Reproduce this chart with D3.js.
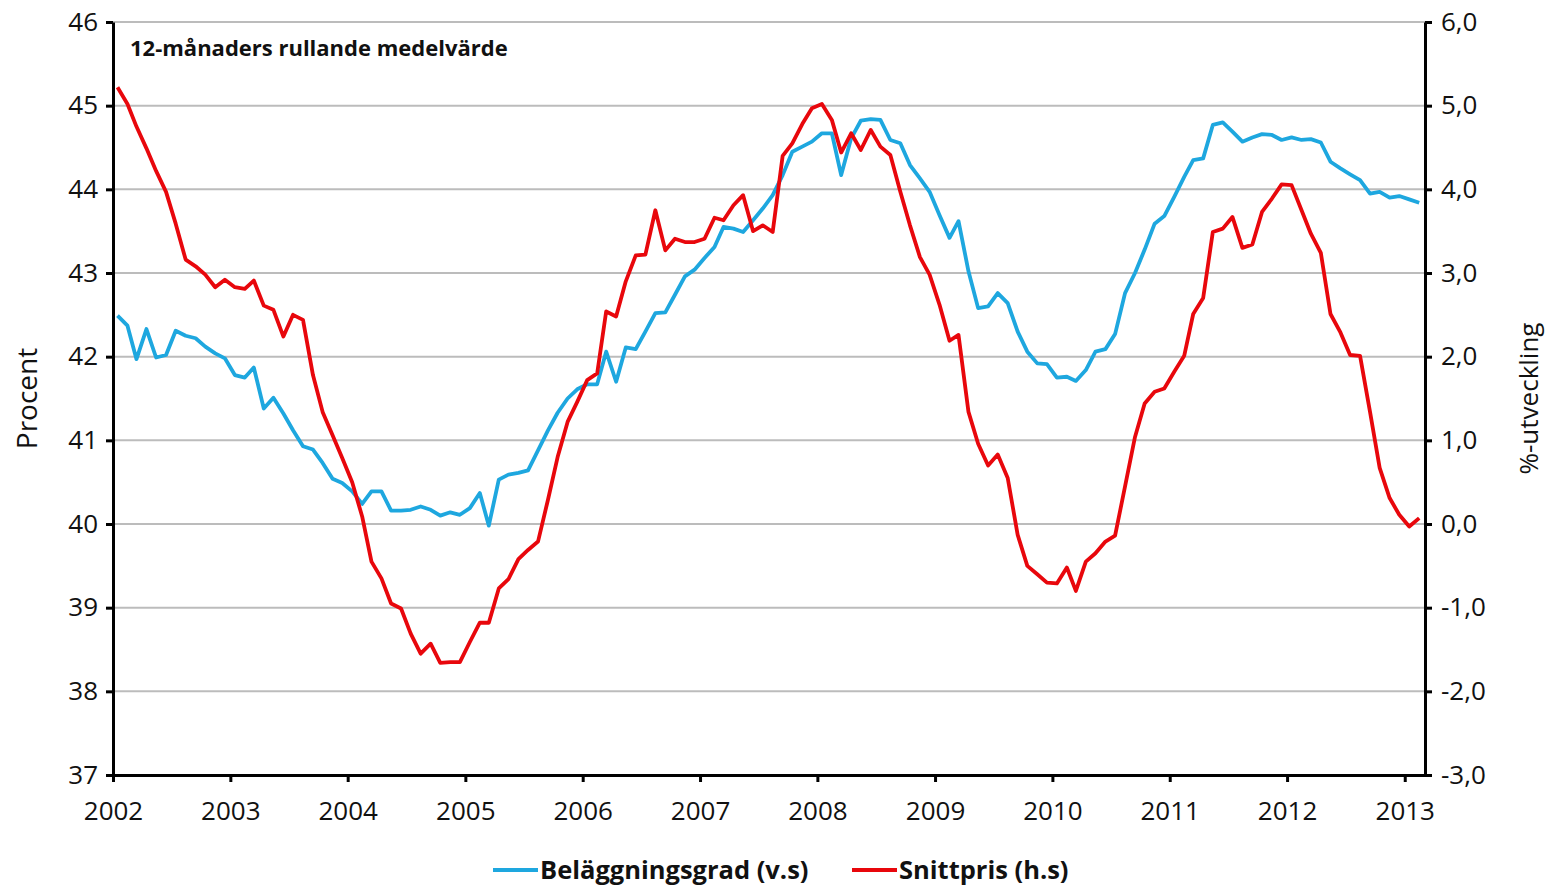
<!DOCTYPE html>
<html>
<head>
<meta charset="utf-8">
<script src="https://cdn.jsdelivr.net/npm/d3@7"></script>
<style>
  body { margin: 0; background: #fff; }
  svg { display: block; font-family: 'Open Sans', sans-serif; }
</style>
</head>
<body>
<div id="chart"></div>
<script>
// data: monthly values jan 2002 - feb 2013
const years = [2002, 2003, 2004, 2005, 2006, 2007, 2008, 2009, 2010, 2011, 2012, 2013];

// Beläggningsgrad, procent (left axis)
const occupancy = [
  42.49, 42.37, 41.97, 42.33, 41.99, 42.02, 42.31, 42.25, 42.22, 42.12, 42.04, 41.98,
  41.78, 41.75, 41.87, 41.38, 41.51, 41.32, 41.12, 40.93, 40.89, 40.73, 40.54, 40.49,
  40.39, 40.24, 40.39, 40.39, 40.16, 40.16, 40.17, 40.21, 40.17, 40.10, 40.14, 40.11,
  40.19, 40.37, 39.98, 40.53, 40.59, 40.61, 40.64, 40.88, 41.12, 41.33, 41.50, 41.61,
  41.67, 41.67, 42.06, 41.70, 42.11, 42.09, 42.30, 42.52, 42.53, 42.74, 42.96, 43.04,
  43.18, 43.31, 43.55, 43.53, 43.49, 43.63, 43.77, 43.93, 44.17, 44.45, 44.51, 44.57,
  44.67, 44.67, 44.17, 44.61, 44.82, 44.84, 44.83, 44.59, 44.55, 44.29, 44.13, 43.97,
  43.69, 43.42, 43.62, 43.02, 42.58, 42.60, 42.76, 42.64, 42.30, 42.06, 41.92, 41.91,
  41.75, 41.76, 41.71, 41.84, 42.06, 42.09, 42.27, 42.76, 43.00, 43.28, 43.59, 43.68,
  43.91, 44.15, 44.35, 44.37, 44.77, 44.80, 44.69, 44.57, 44.62, 44.66, 44.65, 44.59,
  44.62, 44.59, 44.60, 44.56, 44.33, 44.25, 44.18, 44.11, 43.95, 43.97, 43.90, 43.92,
  43.88, 43.84
];

// Snittpris, %-utveckling (right axis)
const price = [
  5.22, 5.02, 4.75, 4.49, 4.22, 3.97, 3.59, 3.16, 3.08, 2.98, 2.83, 2.92,
  2.83, 2.81, 2.91, 2.61, 2.56, 2.24, 2.50, 2.44, 1.78, 1.34, 1.06, 0.79,
  0.50, 0.09, -0.45, -0.65, -0.95, -1.01, -1.31, -1.55, -1.43, -1.66, -1.65, -1.65,
  -1.41, -1.18, -1.18, -0.77, -0.66, -0.42, -0.31, -0.21, 0.29, 0.80, 1.22, 1.46,
  1.72, 1.80, 2.54, 2.48, 2.90, 3.21, 3.22, 3.75, 3.27, 3.41, 3.37, 3.37,
  3.41, 3.66, 3.63, 3.81, 3.93, 3.50, 3.57, 3.49, 4.40, 4.55, 4.78, 4.97,
  5.02, 4.83, 4.44, 4.67, 4.47, 4.71, 4.51, 4.41, 3.97, 3.57, 3.19, 2.98,
  2.62, 2.19, 2.26, 1.34, 0.96, 0.70, 0.83, 0.55, -0.13, -0.50, -0.60, -0.70,
  -0.71, -0.52, -0.80, -0.45, -0.35, -0.21, -0.14, 0.45, 1.04, 1.44, 1.58, 1.62,
  1.82, 2.01, 2.51, 2.70, 3.49, 3.53, 3.67, 3.30, 3.34, 3.73, 3.89, 4.06,
  4.05, 3.75, 3.47, 3.24, 2.51, 2.29, 2.02, 2.01, 1.34, 0.67, 0.31, 0.11,
  -0.03, 0.07
];

const leftTicks = [37, 38, 39, 40, 41, 42, 43, 44, 45, 46];
const rightTicks = [-3, -2, -1, 0, 1, 2, 3, 4, 5, 6];
const seriesNames = ['Beläggningsgrad (v.s)', 'Snittpris (h.s)'];
const colors = ['#1ea7df', '#e8070c'];

// month dates (mid month)
const dates = occupancy.map((d, i) => new Date(2002, i, 15));

const s = {
  width: 1557,
  height: 885,
  margin: {top: 22, bottom: 110, left: 113, right: 132},
  fontSize: 26
};

const svg = d3.select('#chart').append('svg')
  .attr('width', s.width)
  .attr('height', s.height);

const x = d3.scaleTime()
  .domain([new Date(2002, 0, 1), new Date(2013, 2, 5)])
  .range([s.margin.left, s.width - s.margin.right]);
const yL = d3.scaleLinear()
  .domain([37, 46])
  .range([s.height - s.margin.bottom, s.margin.top]);
const yR = d3.scaleLinear()
  .domain([-3, 6])
  .range([s.height - s.margin.bottom, s.margin.top]);

const sv = d3.formatLocale({decimal: ',', thousands: ' ', grouping: [3], currency: ['', ''], minus: '-'});
const fmtR = sv.format('.1f');

// gridlines
svg.append('g').attr('class', 'grid')
  .selectAll('line')
  .data(leftTicks.slice(1))
  .join('line')
  .attr('x1', s.margin.left)
  .attr('x2', s.width - s.margin.right)
  .attr('y1', d => yL(d))
  .attr('y2', d => yL(d))
  .style('stroke', '#bcbcbc')
  .style('stroke-width', '2px');

// lines
const line = y => d3.line()
  .x((d, i) => x(dates[i]))
  .y(d => y(d));

svg.append('path')
  .datum(occupancy)
  .attr('d', line(yL))
  .style('fill', 'none')
  .style('stroke', colors[0])
  .style('stroke-width', '3.8px')
  .style('stroke-linejoin', 'round');

svg.append('path')
  .datum(price)
  .attr('d', line(yR))
  .style('fill', 'none')
  .style('stroke', colors[1])
  .style('stroke-width', '3.8px')
  .style('stroke-linejoin', 'round');

// axes
const styleAxis = g => {
  g.select('.domain').style('stroke', '#000').style('stroke-width', '3px');
  g.selectAll('.tick line').style('stroke', '#000').style('stroke-width', '3px');
  g.selectAll('.tick text')
    .style('font-size', `${s.fontSize}px`)
    .style('fill', '#111')
    .style('font-family', "'Open Sans', sans-serif");
};

svg.append('g')
  .attr('transform', `translate(${s.margin.left},0)`)
  .call(d3.axisLeft(yL).tickValues(leftTicks).tickSize(7).tickSizeOuter(0).tickPadding(8))
  .call(styleAxis);

svg.append('g')
  .attr('transform', `translate(${s.width - s.margin.right},0)`)
  .call(d3.axisRight(yR).tickValues(rightTicks).tickFormat(fmtR).tickSize(7).tickSizeOuter(0).tickPadding(9))
  .call(styleAxis);

svg.append('g')
  .attr('transform', `translate(0,${s.height - s.margin.bottom})`)
  .call(d3.axisBottom(x)
    .tickValues(years.map(y => new Date(y, 0, 1)))
    .tickFormat(d3.timeFormat('%Y'))
    .tickSize(7).tickSizeOuter(0).tickPadding(20))
  .call(styleAxis);

// titles
svg.append('text')
  .attr('x', 130)
  .attr('y', 56)
  .style('font-size', '22px')
  .style('font-weight', 'bold')
  .style('fill', '#111')
  .text('12-månaders rullande medelvärde');

svg.append('text')
  .attr('transform', `translate(37, ${(s.margin.top + s.height - s.margin.bottom) / 2}) rotate(-90)`)
  .style('text-anchor', 'middle')
  .style('font-size', '28px')
  .style('fill', '#111')
  .text('Procent');

svg.append('text')
  .attr('transform', `translate(1538, ${(s.margin.top + s.height - s.margin.bottom) / 2}) rotate(-90)`)
  .style('text-anchor', 'middle')
  .style('font-size', '26px')
  .style('fill', '#111')
  .text('%-utveckling');

// legend
const legendX = [493, 852];
const legend = svg.append('g').attr('class', 'legend')
  .selectAll('g')
  .data(seriesNames)
  .join('g')
  .attr('transform', (d, i) => `translate(${legendX[i]}, 870)`);
legend.append('line')
  .attr('x1', 0).attr('x2', 45)
  .style('stroke', (d, i) => colors[i])
  .style('stroke-width', '3.8px');
legend.append('text')
  .attr('x', 47)
  .attr('dy', '0.36em')
  .style('font-size', '25.5px')
  .style('font-weight', 'bold')
  .style('fill', '#111')
  .text(d => d);
</script>
</body>
</html>
